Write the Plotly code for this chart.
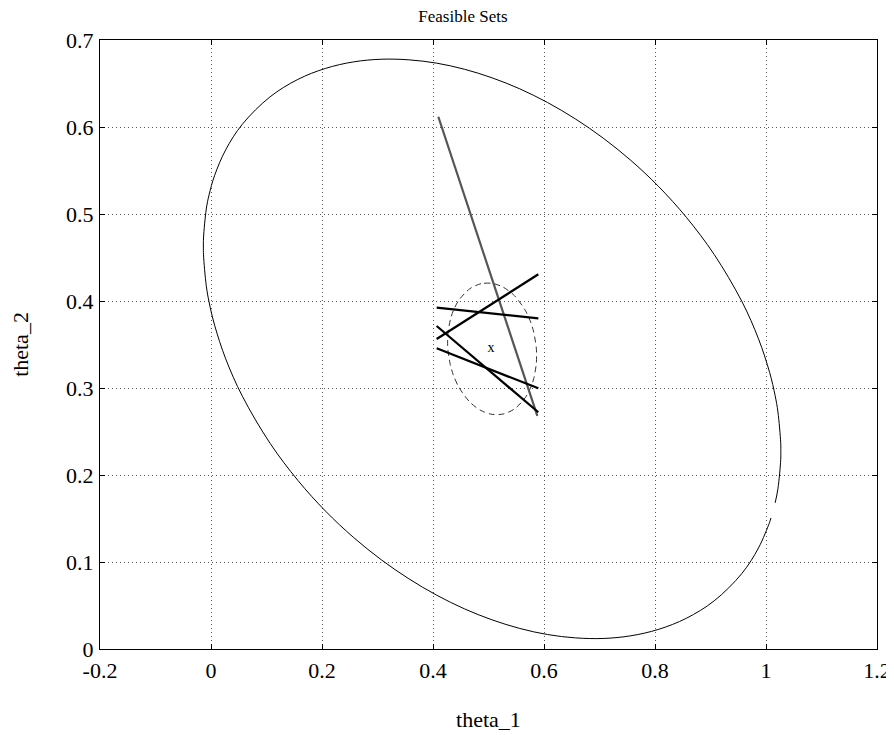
import plotly.graph_objects as go

# Large feasible set (ellipse outline, drawn with a small gap near the right side)
big_x = [1.0165, 1.0215, 1.0265, 1.0267, 1.0265, 1.0215, 1.0165, 1.0065, 0.9865, 0.9565,
         0.9065, 0.8565, 0.8065, 0.7565, 0.7065, 0.6565, 0.6065, 0.5565, 0.5065, 0.4565,
         0.4065, 0.3565, 0.3065, 0.2565, 0.2065, 0.1565, 0.1065, 0.0565, 0.0265, 0.0065,
         -0.0035, -0.0085, -0.0135, -0.0137, -0.0135, -0.0085, -0.0035, 0.0065, 0.0265, 0.0565,
         0.1065, 0.1565, 0.2065, 0.2565, 0.3065, 0.3565, 0.4065, 0.4565, 0.5065, 0.5565,
         0.6065, 0.6565, 0.7065, 0.7565, 0.8065, 0.8565, 0.9065, 0.9565, 0.9865, 1.0065, 1.0090]
big_y = [0.1680, 0.1843, 0.2176, 0.2280, 0.2370, 0.2725, 0.2911, 0.3179, 0.3565, 0.3995,
         0.4536, 0.4962, 0.5316, 0.5616, 0.5873, 0.6093, 0.6281, 0.6438, 0.6565, 0.6664,
         0.6734, 0.6772, 0.6779, 0.6748, 0.6674, 0.6547, 0.6347, 0.6032, 0.5738, 0.5443,
         0.5220, 0.5057, 0.4724, 0.4620, 0.4530, 0.4175, 0.3989, 0.3722, 0.3335, 0.2906,
         0.2364, 0.1938, 0.1584, 0.1284, 0.1027, 0.0807, 0.0619, 0.0462, 0.0335, 0.0236,
         0.0166, 0.0128, 0.0121, 0.0152, 0.0226, 0.0353, 0.0553, 0.0868, 0.1162, 0.1457, 0.1506]

# Small feasible set (dashed ellipse)
small_x = [0.5065, 0.4865, 0.4665, 0.4465, 0.4365, 0.4315, 0.4270, 0.4263, 0.4270, 0.4315,
           0.4365, 0.4465, 0.4665, 0.4865, 0.5065, 0.5265, 0.5465, 0.5665, 0.5765, 0.5815,
           0.5860, 0.5867, 0.5860, 0.5815, 0.5765, 0.5665, 0.5465, 0.5265, 0.5065]
small_y = [0.4203, 0.4199, 0.4142, 0.4009, 0.3887, 0.3792, 0.3629, 0.3530, 0.3430, 0.3258,
           0.3152, 0.3010, 0.2837, 0.2741, 0.2697, 0.2701, 0.2758, 0.2891, 0.3013, 0.3108,
           0.3271, 0.3370, 0.3470, 0.3642, 0.3748, 0.3890, 0.4063, 0.4159, 0.4203]

# Constraint lines (thick black)
lines_x = [[0.4066, 0.5898], [0.4066, 0.5898], [0.4066, 0.5898], [0.4066, 0.5898]]
lines_y = [[0.3923, 0.3800], [0.3563, 0.4307], [0.3713, 0.2721], [0.3456, 0.2996]]

# Grey line
grey_x = [0.4096, 0.5880]
grey_y = [0.6118, 0.2680]

# Centre marker
center_x = [0.5045]
center_y = [0.345]

x_ticks = [-0.2, 0, 0.2, 0.4, 0.6, 0.8, 1.0, 1.2]
x_ticktext = ["-0.2", "0", "0.2", "0.4", "0.6", "0.8", "1", "1.2"]
y_ticks = [0, 0.1, 0.2, 0.3, 0.4, 0.5, 0.6, 0.7]
y_ticktext = ["0", "0.1", "0.2", "0.3", "0.4", "0.5", "0.6", "0.7"]

FONT = "Liberation Serif"

fig = go.Figure()
fig.add_trace(go.Scatter(x=big_x, y=big_y, mode="lines",
                         line=dict(color="black", width=1, shape="spline", smoothing=1.0),
                         showlegend=False, hoverinfo="skip"))
fig.add_trace(go.Scatter(x=small_x, y=small_y, mode="lines",
                         line=dict(color="#333333", width=1, dash="6px,4px", shape="spline", smoothing=0.8),
                         showlegend=False, hoverinfo="skip"))
fig.add_trace(go.Scatter(x=grey_x, y=grey_y, mode="lines",
                         line=dict(color="#555555", width=2.2),
                         showlegend=False, hoverinfo="skip"))
for lx, ly in zip(lines_x, lines_y):
    fig.add_trace(go.Scatter(x=lx, y=ly, mode="lines",
                             line=dict(color="black", width=2.2),
                             showlegend=False, hoverinfo="skip"))
fig.add_trace(go.Scatter(x=center_x, y=center_y, mode="text", text=["x"],
                         textfont=dict(family=FONT, size=14, color="black"),
                         showlegend=False, hoverinfo="skip"))

axis_common = dict(showline=True, linecolor="black", linewidth=1, mirror="ticks",
                   ticks="inside", ticklen=5, tickcolor="black", tickwidth=1,
                   showgrid=True, gridcolor="#555555", griddash="1px,3px", gridwidth=1,
                   zeroline=False, automargin=False,
                   tickfont=dict(family=FONT, size=22, color="black"))

# The page body adds an 8px offset, so the figure is sized to end at the window edge.
fig.update_layout(
    width=886, height=727,
    margin=dict(l=92, r=17, t=32, b=86),
    paper_bgcolor="white", plot_bgcolor="white",
    title=dict(text="Feasible Sets", x=0.5135, xanchor="center", xref="container",
               y=0.9895, yanchor="middle", yref="container",
               font=dict(family=FONT, size=17, color="black")),
    xaxis=dict(range=[-0.2, 1.2], tickvals=x_ticks, ticktext=x_ticktext, ticklabelstandoff=2,
               title=dict(text="theta_1", standoff=29, font=dict(family=FONT, size=22, color="black")),
               **axis_common),
    yaxis=dict(range=[0, 0.7], tickvals=y_ticks, ticktext=y_ticktext, ticklabelstandoff=1,
               title=dict(text="theta_2", standoff=31, font=dict(family=FONT, size=22, color="black")),
               **axis_common),
)

fig.write_html("out.html")
